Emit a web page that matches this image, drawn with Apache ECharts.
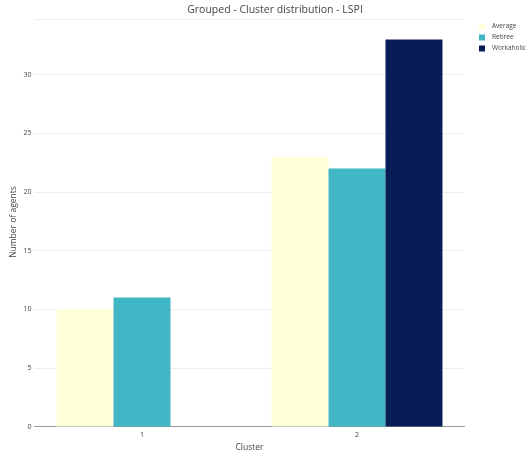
<!DOCTYPE html>
<html><head><meta charset="utf-8">
<script src="https://cdn.jsdelivr.net/npm/echarts@6/dist/echarts.min.js"></script>
<style>html,body{margin:0;padding:0;background:#fff}#c{width:527px;height:451px}</style>
</head><body><div id="c"></div>
<script>
const categories = ['1', '2'];
const average = [10, 23];
const retiree = [11, 22];
const workaholic = [null, 33];
const seriesNames = ['Average', 'Retiree', 'Workaholic'];
const colors = ['#ffffd9', '#41b6c4', '#081d58'];
const yAxisTitle = 'Number of agents';

const chart = echarts.init(document.getElementById('c'));
const font = 'Open Sans';
chart.setOption({
  animation: false,
  title: { text: 'Grouped - Cluster distribution - LSPI', left: 270, textAlign: 'center', top: 0,
    textStyle: { fontFamily: font, fontSize: 10.5, fontWeight: 'normal', color: '#444' } },
  legend: { orient: 'vertical', left: 479, top: 23, padding: 0, itemWidth: 6, itemHeight: 6, itemGap: 4,
    icon: 'rect', textStyle: { fontFamily: font, fontSize: 6.5, color: '#444', padding: [0,0,0,2] }, data: seriesNames },
  grid: { left: 34.5, right: 62.5, top: 19, bottom: 24.5, containLabel: false, outerBoundsMode: 'none' },
  graphic: [{ type: 'text', x: 14, y: 222, rotation: Math.PI / 2,
    style: { text: yAxisTitle, fontFamily: font, fontSize: 8.5, fill: '#444', align: 'center', verticalAlign: 'middle' } }],
  xAxis: { type: 'category', data: categories, name: 'Cluster', nameLocation: 'middle', nameGap: 16,
    nameTextStyle: { fontFamily: font, fontSize: 8.5, color: '#444' },
    axisLine: { lineStyle: { color: '#999', width: 1 } }, axisTick: { show: false },
    axisLabel: { fontFamily: font, fontSize: 7, color: '#444', margin: 5 } },
  yAxis: { type: 'value', min: 0, max: 34.74, interval: 5,
    axisLine: { show: false }, axisTick: { show: false },
    splitLine: { lineStyle: { color: '#eee', width: 1 } },
    axisLabel: { fontFamily: font, fontSize: 7, color: '#444', margin: 3,
      formatter: v => (v % 5 === 0 ? String(v) : '') } },
  series: [average, retiree, workaholic].map((d, i) => ({
    name: seriesNames[i], type: 'bar', data: d, barGap: '0%', barCategoryGap: '20.5%',
    itemStyle: { color: colors[i] }
  }))
});
</script></body></html>
